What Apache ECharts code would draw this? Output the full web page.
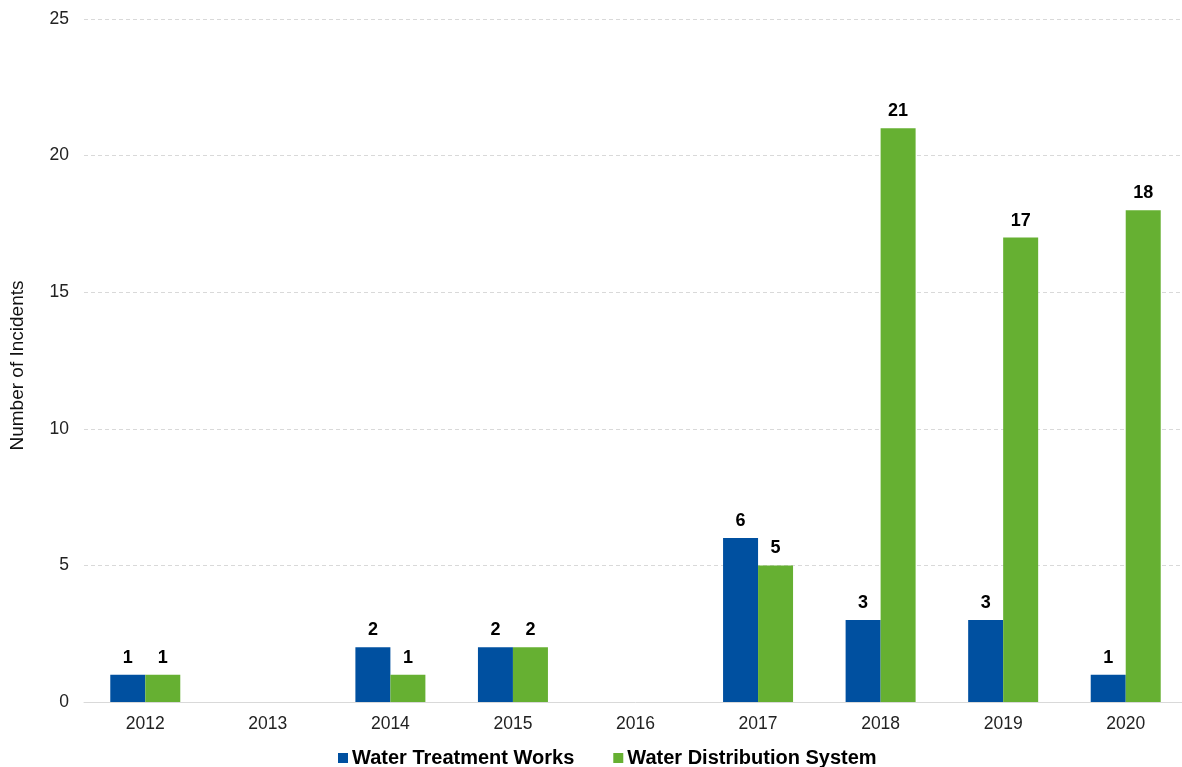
<!DOCTYPE html>
<html><head><meta charset="utf-8">
<script src="https://cdn.jsdelivr.net/npm/echarts@6/dist/echarts.min.js"></script>
<style>html,body{margin:0;padding:0;background:#fff;overflow:hidden;width:1182px;height:767px}#c{width:1190px;height:767px}</style>
</head><body><div id="c"></div>
<script>
const categories = ['2012','2013','2014','2015','2016','2017','2018','2019','2020'];
const treatmentWorks = [1, null, 2, 2, null, 6, 3, 3, 1];
const distributionSystem = [1, null, 1, 2, null, 5, 21, 17, 18];
const yTicks = { min: 0, max: 25, interval: 5 };

const chart = echarts.init(document.getElementById('c'), null, {renderer: 'canvas'});
const labelStyle = { show: true, position: 'top', distance: 8, fontFamily: 'Liberation Sans, Arial', fontWeight: 'bold', fontSize: 18, color: '#000' };
chart.setOption({
  animation: false,
  textStyle: { fontFamily: 'Liberation Sans, Arial' },
  grid: { left: 84, top: 19, right: 3, bottom: 65, containLabel: false },
  legend: {
    top: 743, left: 333, itemWidth: 10, itemHeight: 10, itemGap: 39,
    icon: 'rect',
    textStyle: { fontFamily: 'Liberation Sans, Arial', fontWeight: 'bold', fontSize: 20, color: '#000', padding: [0,0,0,-1] },
    data: ['Water Treatment Works', 'Water Distribution System']
  },
  xAxis: {
    type: 'category', data: categories,
    axisLine: { lineStyle: { color: '#d9d9d9', width: 1 } },
    axisTick: { show: false },
    axisLabel: { color: '#222', fontSize: 17.5, margin: 13 }
  },
  yAxis: {
    type: 'value', min: yTicks.min, max: yTicks.max, interval: yTicks.interval,
    name: 'Number of Incidents', nameLocation: 'middle', nameGap: 57, nameRotate: 90,
    nameTextStyle: { fontSize: 19, color: '#111', padding: [0, 10, 0, 0] },
    axisLine: { show: false }, axisTick: { show: false },
    axisLabel: { color: '#222', fontSize: 17.5, margin: 15 },
    splitLine: { lineStyle: { color: '#d9d9d9', type: [4, 3] } }
  },
  series: [
    { name: 'Water Treatment Works', type: 'bar', data: treatmentWorks, barWidth: 35, barGap: '0%',
      itemStyle: { color: '#0050A0' }, label: labelStyle },
    { name: 'Water Distribution System', type: 'bar', data: distributionSystem, barWidth: 35, barGap: '0%',
      itemStyle: { color: '#66B032' }, label: labelStyle }
  ]
});
</script></body></html>
